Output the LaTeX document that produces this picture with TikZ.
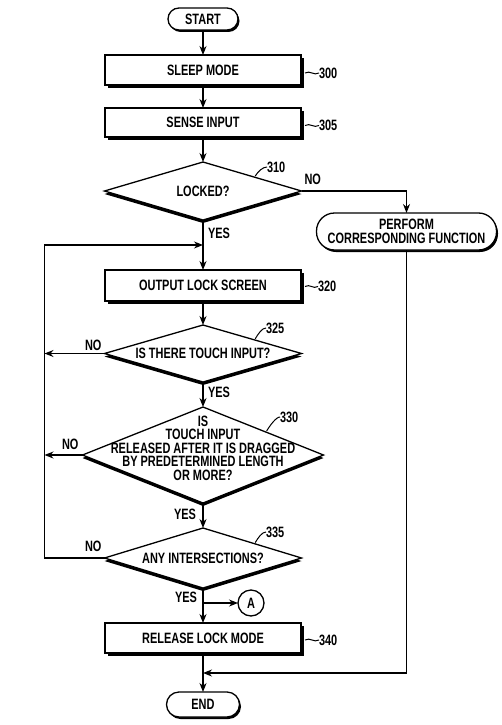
\documentclass[tikz,border=0pt]{standalone}
\usepackage{fontspec}
\setmainfont{Liberation Sans}[FakeStretch=0.73]
\usetikzlibrary{arrows.meta, positioning, shapes.geometric, shadows, calc}

\begin{document}
\begin{tikzpicture}[
    x=1pt, y=-1pt,
    node distance = 25pt and 25pt,
    every node/.style = {outer sep=0pt},
    proc/.style = {rectangle, draw, fill=white, line width=1.3pt,
      minimum width=196pt, minimum height=30pt, inner sep=0pt,
      drop shadow={shadow xshift=3pt, shadow yshift=-3pt, fill=black, opacity=1}},
    term/.style = {rectangle, draw, fill=white, line width=1.3pt,
      minimum height=22pt, inner sep=0pt,
      drop shadow={shadow xshift=1.5pt, shadow yshift=-2pt, fill=black, opacity=1}},
    ask/.style = {diamond, aspect=3.4, draw, fill=white, line width=1.3pt, inner sep=0pt,
      minimum width=197pt, minimum height=58pt,
      drop shadow={shadow xshift=0pt, shadow yshift=-3pt, fill=black, opacity=1}},
    conn/.style = {circle, draw, line width=1.3pt, minimum size=26pt, inner sep=0pt},
    refnum/.style = {inner sep=0pt},
    lbl/.style = {inner sep=0pt},
    pil/.style = {black, line width=1.3pt, -{Stealth[length=9pt, width=7pt]}},
    leader/.style = {line width=1pt},
    font=\fontsize{15}{13.5}\selectfont\bfseries
    ]

  \useasboundingbox (0,0) rectangle (501,725);

  \node[term, rounded corners=11pt, minimum width=70pt] (start) at (203,19) {START} ;
  \node[proc] (sleep) [below=25pt of start] {SLEEP MODE} ;
  \node[proc, minimum height=29pt] (sense) [below=23pt of sleep] {SENSE INPUT} ;
  \node[ask] (locked) [below=25pt of sense] {LOCKED?} ;
  \node[term, rounded corners=18pt, minimum width=180pt, minimum height=37pt,
    align=center] (perform) [below right=22pt and 15pt of locked.east]
    {PERFORM\\CORRESPONDING FUNCTION} ;
  \node[proc, minimum height=31pt] (output) [below=50pt of locked] {OUTPUT LOCK SCREEN} ;
  \node[ask, minimum height=57pt] (d325) [below=24pt of output] {IS THERE TOUCH INPUT?} ;
  \node[ask, minimum width=241pt, minimum height=96pt,
    label={[align=center, yshift=7pt]center:IS\\TOUCH INPUT\\RELEASED AFTER IT IS DRAGGED\\BY PREDETERMINED LENGTH\\OR MORE?}]
    (d330) [below=25pt of d325] {} ;
  \node[ask, minimum height=60pt] (d335) [below=25pt of d330] {ANY INTERSECTIONS?} ;
  \node[proc] (release) [below=35pt of d335] {RELEASE LOCK MODE} ;
  \node[term, rounded corners=12.5pt, minimum width=73pt, minimum height=25pt] (stop) [below=39pt of release] {END} ;

  % reference numbers
  \node[refnum] (n300) [right=18pt of sleep, yshift=-3pt] {300} ;
  \node[refnum] (n305) [right=18pt of sense, yshift=-3pt] {305} ;
  \node[refnum] (n310) [right=64pt of locked.north, yshift=-5pt] {310} ;
  \node[refnum] (n320) [right=17pt of output, yshift=-1pt] {320} ;
  \node[refnum] (n325) [right=63pt of d325.north, yshift=-3pt] {325} ;
  \node[refnum] (n330) [right=77pt of d330.north, yshift=-10pt] {330} ;
  \node[refnum] (n335) [right=63pt of d335.north, yshift=-4pt] {335} ;
  \node[refnum] (n340) [right=18pt of release, yshift=-2pt] {340} ;

  % yes / no
  \node[lbl] (no310) [above right=6pt and 3pt of locked.east] {NO} ;
  \node[lbl] (yes310) [below right=8pt and 5pt of locked.south] {YES} ;
  \node[lbl] (no325) [above left=3pt and 3pt of d325.west] {NO} ;
  \node[lbl] (yes325) [below right=5pt and 5pt of d325.south] {YES} ;
  \node[lbl] (no330) [above left=5pt and 4pt of d330.west] {NO} ;
  \node[lbl] (yes330) [above left=8pt and 7pt of d335.north] {YES} ;
  \node[lbl] (no335) [above left=6pt and 3pt of d335.west] {NO} ;
  \node[lbl] (yes335) [below left=4pt and 6pt of d335.south] {YES} ;

  \coordinate (merge) at ([yshift=-25pt]locked.south) ;
  \coordinate (loopx) at ([xshift=-60pt]d335.west) ;
  \coordinate (branch) at ([yshift=-15pt]d335.south) ;
  \coordinate (join) at ([yshift=-20pt]release.south) ;

  \node[conn] (A) [right=35pt of branch] {A} ;

  \draw[pil]
  (start) edge (sleep)
  (sleep) edge (sense)
  (sense) edge (locked)
  (locked) edge (output)
  (output) edge (d325)
  (d325) edge (d330)
  (d330) edge (d335)
  (d335) edge (release)
  (release) edge (stop) ;

  \draw[pil] (locked.east) -| (perform.north) ;
  \draw[pil] (perform.south) |- (join) ;
  \draw[pil] (d325.west) -- (d325.west -| loopx) ;
  \draw[pil] (d330.west) -- (d330.west -| loopx) ;
  \draw[pil] (d335.west) -- (d335.west -| loopx) |- (merge) ;
  \draw[pil] (branch) -- (A) ;

  % leaders
  \draw[leader] ($(sleep.east |- n300.west)+(4,0)$) .. controls +(5,-3) and +(-5,3) .. (n300.west) ;
  \draw[leader] ($(sense.east |- n305.west)+(4,0)$) .. controls +(5,-3) and +(-5,3) .. (n305.west) ;
  \draw[leader] ($(output.east |- n320.west)+(4,0)$) .. controls +(5,-3) and +(-5,3) .. (n320.west) ;
  \draw[leader] ($(release.east |- n340.west)+(4,0)$) .. controls +(5,-3) and +(-5,3) .. (n340.west) ;
  \draw[leader] ($(locked.north)!0.52!(locked.east)+(1,-1)$) .. controls +(3,-5) and +(-4,0) .. (n310.west) ;
  \draw[leader] ($(d325.north)!0.52!(d325.east)+(1,-1)$) .. controls +(3,-5) and +(-4,0) .. (n325.west) ;
  \draw[leader] ($(d330.north)!0.52!(d330.east)+(1,-1)$) .. controls +(3,-5) and +(-4,0) .. (n330.west) ;
  \draw[leader] ($(d335.north)!0.52!(d335.east)+(1,-1)$) .. controls +(3,-5) and +(-4,0) .. (n335.west) ;

\end{tikzpicture}
\end{document}
